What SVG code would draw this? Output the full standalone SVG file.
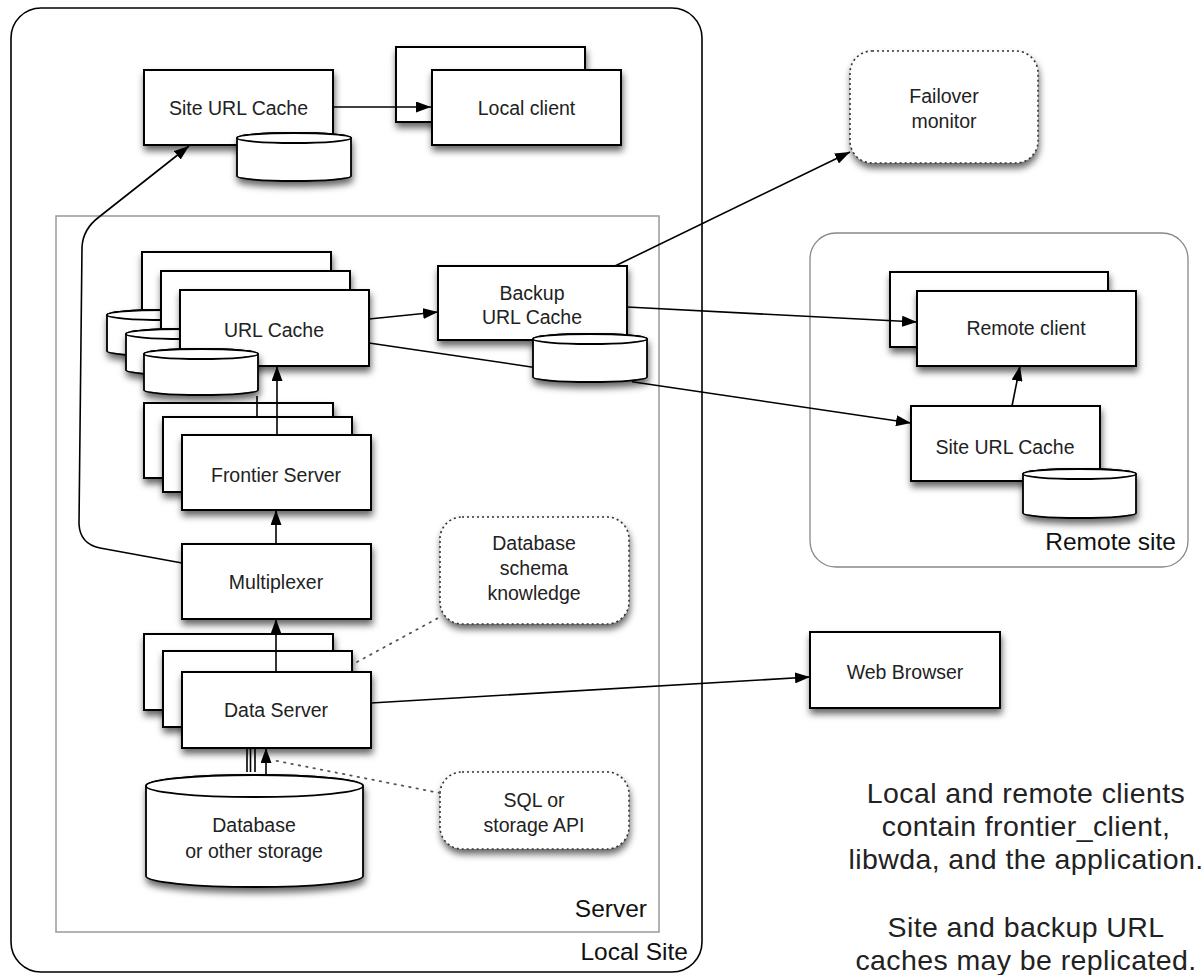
<svg xmlns="http://www.w3.org/2000/svg" width="1204" height="975" viewBox="0 0 1204 975">
<defs>
<filter id="sh" x="-20%" y="-20%" width="150%" height="170%">
<feDropShadow dx="1" dy="5" stdDeviation="3.5" flood-color="#000" flood-opacity="0.6"/>
</filter>
<marker id="ah" viewBox="0 0 15 11" refX="15" refY="5.5" markerWidth="15" markerHeight="11" markerUnits="userSpaceOnUse" orient="auto">
<path d="M0,0 L15,5.5 L0,11 Z" fill="#000"/>
</marker>
</defs>
<style>
.box{fill:#fff;stroke:#000;stroke-width:2;filter:url(#sh)}
.cyl{fill:#fff;stroke:#000;stroke-width:1.8}
.dash{fill:#fff;stroke:#333;stroke-width:1.6;stroke-dasharray:2,3;filter:url(#sh)}
.t{font-family:"Liberation Sans",Arial,sans-serif;font-size:19.5px;fill:#222;text-anchor:middle}
.lbl{font-family:"Liberation Sans",Arial,sans-serif;font-size:24.5px;fill:#111;text-anchor:end}
.note{font-family:"Liberation Sans",Arial,sans-serif;font-size:28.5px;letter-spacing:0.4px;fill:#222;text-anchor:middle}
.c{fill:none;stroke:#000;stroke-width:1.6}
.ca{fill:none;stroke:#000;stroke-width:1.6;marker-end:url(#ah)}
.dot{fill:none;stroke:#555;stroke-width:1.8;stroke-dasharray:1.5,6;stroke-linecap:round}
</style>
<rect width="1204" height="975" fill="#fff"/>

<g id="local-site">
<rect x="11" y="8" width="691" height="964" rx="30" fill="none" stroke="#000" stroke-width="1.6"/>
<text class="lbl" x="688" y="960">Local Site</text>
</g>
<g id="server">
<rect x="56" y="216" width="603" height="716" fill="none" stroke="#999" stroke-width="1.5"/>
<text class="lbl" x="647" y="917">Server</text>
</g>
<g id="remote-site">
<rect x="810" y="233" width="378" height="334" rx="26" fill="none" stroke="#888" stroke-width="1.3"/>
<text class="lbl" x="1176" y="550">Remote site</text>
</g>

<g id="site-url-cache-local">
<rect class="box" x="144" y="70" width="189" height="75"/>
<text class="t" x="238.5" y="115">Site URL Cache</text>
<g filter="url(#sh)">
<path class="cyl" d="M237,138 L237,176 A57,5 0 0 0 351,176 L351,138 A57,5 0 0 0 237,138 Z"/>
<ellipse cx="294" cy="138" rx="57" ry="5" fill="#fff" stroke="#000" stroke-width="1.8"/>
</g>
</g>

<g id="local-client">
<rect class="box" x="396" y="47" width="189" height="75"/>
<rect class="box" x="432" y="70" width="189" height="75"/>
<text class="t" x="526.5" y="115">Local client</text>
</g>

<g id="failover-monitor">
<rect class="dash" x="850" y="51" width="188" height="112" rx="22"/>
<text class="t" x="944" y="103">Failover</text>
<text class="t" x="944" y="128">monitor</text>
</g>

<g id="url-cache">
<rect class="box" x="142" y="252" width="189" height="76"/>
<g filter="url(#sh)">
<path class="cyl" d="M107,315 L107,351 A57,5 0 0 0 221,351 L221,315 A57,5 0 0 0 107,315 Z"/>
<ellipse cx="164" cy="315" rx="57" ry="5" fill="#fff" stroke="#000" stroke-width="1.8"/>
</g>
<rect class="box" x="161" y="271" width="189" height="76"/>
<g filter="url(#sh)">
<path class="cyl" d="M126,334 L126,370 A57,5 0 0 0 240,370 L240,334 A57,5 0 0 0 126,334 Z"/>
<ellipse cx="183" cy="334" rx="57" ry="5" fill="#fff" stroke="#000" stroke-width="1.8"/>
</g>
<rect class="box" x="180" y="290" width="189" height="76"/>
<text class="t" x="274" y="337">URL Cache</text>
<g filter="url(#sh)">
<path class="cyl" d="M144,354 L144,390 A57,5 0 0 0 258,390 L258,354 A57,5 0 0 0 144,354 Z"/>
<ellipse cx="201" cy="354" rx="57" ry="5" fill="#fff" stroke="#000" stroke-width="1.8"/>
</g>
</g>

<g id="backup-url-cache">
<rect class="box" x="438" y="266" width="189" height="74"/>
<text class="t" x="532" y="300">Backup</text>
<text class="t" x="532" y="324">URL Cache</text>
<g filter="url(#sh)">
<path class="cyl" d="M533,339 L533,377 A57,5 0 0 0 647,377 L647,339 A57,5 0 0 0 533,339 Z"/>
<ellipse cx="590" cy="339" rx="57" ry="5" fill="#fff" stroke="#000" stroke-width="1.8"/>
</g>
</g>

<g id="frontier-server">
<rect class="box" x="144" y="403" width="189" height="75"/>
<rect class="box" x="163" y="417" width="189" height="75"/>
<rect class="box" x="182" y="435" width="189" height="75"/>
<text class="t" x="276" y="482">Frontier Server</text>
</g>

<g id="multiplexer">
<rect class="box" x="182" y="544" width="189" height="75"/>
<text class="t" x="276" y="589">Multiplexer</text>
</g>

<g id="data-server">
<rect class="box" x="144" y="634" width="189" height="76"/>
<rect class="box" x="163" y="651" width="189" height="76"/>
<rect class="box" x="182" y="672" width="189" height="76"/>
<text class="t" x="276" y="717">Data Server</text>
</g>

<g id="database">
<g filter="url(#sh)">
<path class="cyl" d="M146,786 L146,876 A108.5,11 0 0 0 363,876 L363,786 A108.5,11 0 0 0 146,786 Z"/>
<ellipse cx="254.5" cy="786" rx="108.5" ry="11" fill="#fff" stroke="#000" stroke-width="1.8"/>
</g>
<text class="t" x="254" y="832">Database</text>
<text class="t" x="254" y="858">or other storage</text>
</g>

<g id="schema-knowledge">
<rect class="dash" x="440" y="517" width="189" height="107" rx="22"/>
<text class="t" x="534" y="550">Database</text>
<text class="t" x="534" y="575">schema</text>
<text class="t" x="534" y="600">knowledge</text>
</g>

<g id="sql-api">
<rect class="dash" x="440" y="772" width="189" height="77" rx="22"/>
<text class="t" x="534" y="807">SQL or</text>
<text class="t" x="534" y="832">storage API</text>
</g>

<g id="web-browser">
<rect class="box" x="810" y="632" width="190" height="76"/>
<text class="t" x="905" y="679">Web Browser</text>
</g>

<g id="remote-client">
<rect class="box" x="890" y="272" width="218" height="75"/>
<rect class="box" x="917" y="291" width="219" height="75"/>
<text class="t" x="1026" y="335">Remote client</text>
</g>

<g id="site-url-cache-remote">
<rect class="box" x="911" y="406" width="189" height="75"/>
<text class="t" x="1005" y="454">Site URL Cache</text>
<g filter="url(#sh)">
<path class="cyl" d="M1023,474 L1023,513 A56.5,5 0 0 0 1136,513 L1136,474 A56.5,5 0 0 0 1023,474 Z"/>
<ellipse cx="1079.5" cy="474" rx="56.5" ry="5" fill="#fff" stroke="#000" stroke-width="1.8"/>
</g>
</g>

<g id="notes">
<text class="note" x="1026" y="803">Local and remote clients</text>
<text class="note" x="1026" y="836">contain frontier_client,</text>
<text class="note" x="1026" y="869">libwda, and the application.</text>
<text class="note" x="1026" y="937">Site and backup URL</text>
<text class="note" x="1026" y="970">caches may be replicated.</text>
</g>

<g id="connectors">
<path class="ca" d="M333,107 L431,107"/>
<path class="ca" d="M182,563 L100,548 Q80,544 79,524 L82,247 Q83,229 99,217 L189,146"/>
<path class="ca" d="M369,319 L438,312"/>
<path class="c" d="M369,343 L533,367.2"/>
<path class="ca" d="M632,381.8 L911,423"/>
<path class="ca" d="M615,266 L850,152"/>
<path class="ca" d="M627,307 L917,322"/>
<path class="ca" d="M1012,406 L1020,366"/>
<path class="c" d="M257,417 L257,396"/>
<path class="ca" d="M277,435 L277,366"/>
<path class="ca" d="M276,544 L276,510"/>
<path class="ca" d="M276,672 L276,619"/>
<path class="ca" d="M371,703 L810,677"/>
<path class="c" d="M247,772 L247,748 M250.5,772 L250.5,748 M255,772 L255,748" stroke-width="1.3"/>
<path class="ca" d="M266,775 L266,748"/>
<path class="dot" d="M357,662 L440,617"/>
<path class="dot" d="M440,793 L272,760"/>
</g>
</svg>
